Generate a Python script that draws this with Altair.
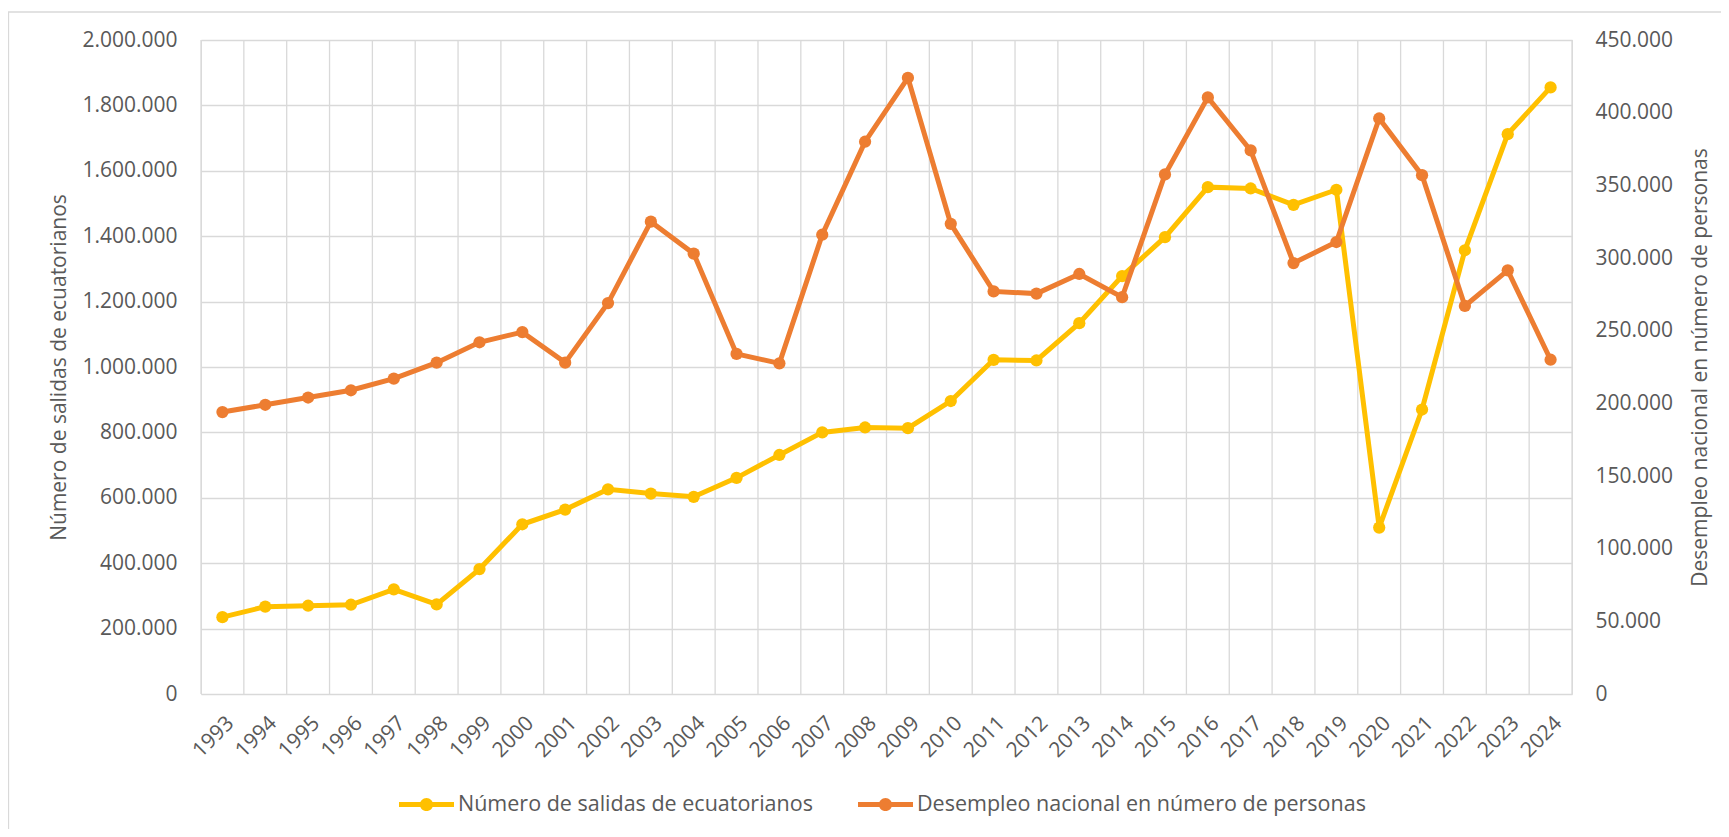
import altair as alt
import pandas as pd

years = list(range(1993, 2025))
salidas = [235000, 267000, 270000, 273000, 320000, 274000, 382000, 519000,
           564000, 626000, 613000, 603000, 661000, 731000, 800000, 815000,
           813000, 896000, 1022000, 1020000, 1134000, 1278000, 1397000, 1550000,
           1546000, 1496000, 1542000, 509000, 870000, 1357000, 1712000, 1855000]
desempleo = [194000, 199000, 204000, 209000, 217000, 228000, 242000, 249000,
             228000, 269000, 325000, 303000, 234000, 227500, 316000, 380000,
             424000, 323500, 277000, 275500, 289000, 273000, 357500, 410500,
             374000, 296500, 311000, 396000, 357000, 267000, 291500, 230000]

s1 = "Número de salidas de ecuatorianos"
s2 = "Desempleo nacional en número de personas"
left_ticks = list(range(0, 2000001, 200000))
right_ticks = list(range(0, 450001, 50000))

YELLOW = "#FFC000"
ORANGE = "#ED7D31"
GRID = "#d9d9d9"
TXT = "#595959"
FONT = "Open Sans"

df1 = pd.DataFrame({"year": years, "value": salidas, "series": s1})
df2 = pd.DataFrame({"year": years, "value": desempleo, "series": s2})
bounds = pd.DataFrame({"year": [y - 0.5 for y in years] + [years[-1] + 0.5]})
frame = pd.DataFrame({"k": [0]})

xscale = alt.Scale(domain=[years[0] - 0.5, years[-1] + 0.5], nice=False, zero=False)
xaxis = alt.Axis(values=years, format="d", labelAngle=-45, grid=False, ticks=False,
                 domain=False, title=None, labelPadding=18,
                 labelFont=FONT, labelFontSize=21, labelColor=TXT,
                 labelOverlap=False, labelFlush=False)
xenc = alt.X("year:Q", scale=xscale, axis=xaxis)
cscale = alt.Scale(domain=[s1, s2], range=[YELLOW, ORANGE])
fmt = "replace(format(datum.value, ','), regexp(',', 'g'), '.')"

legend = alt.Legend(
    title=None, orient="none", legendX=198, legendY=737, direction="horizontal",
    symbolType="M-1,-0.09L1,-0.09L1,0.09L-1,0.09Z M-0.24,0A0.24,0.24 0 1,1 0.24,0A0.24,0.24 0 1,1 -0.24,0Z",
    symbolSize=3025, symbolStrokeWidth=0, labelFont=FONT,
    labelFontSize=21.5, labelColor=TXT, labelLimit=600, columnPadding=45, labelOffset=4)

vgrid = alt.Chart(bounds).mark_rule(color=GRID, strokeWidth=1.3).encode(x=xenc)

border = alt.Chart(frame).mark_rect(fill=None, stroke=GRID, strokeWidth=1.3).encode(
    x=alt.value(-192.5), x2=alt.value(1700), y=alt.value(-28), y2=alt.value(900))

yl = alt.Y("value:Q", scale=alt.Scale(domain=[0, 2000000], nice=False),
           axis=alt.Axis(values=left_ticks, labelExpr=fmt, grid=True, gridColor=GRID,
                         gridWidth=1.3, ticks=False, domain=False, labelPadding=24,
                         title=s1, titlePadding=12, titleFont=FONT, titleFontSize=21,
                         titleFontWeight="normal", titleColor=TXT,
                         labelFont=FONT, labelFontSize=21, labelColor=TXT))
yr = alt.Y("value:Q", scale=alt.Scale(domain=[0, 450000], nice=False),
           axis=alt.Axis(values=right_ticks, labelExpr=fmt, orient="right", grid=False,
                         ticks=False, domain=False, labelPadding=23,
                         title=s2, titlePadding=38, titleAngle=270, titleFont=FONT,
                         titleFontSize=21, titleFontWeight="normal", titleColor=TXT,
                         labelFont=FONT, labelFontSize=21, labelColor=TXT))

left = alt.layer(
    alt.Chart(df1).mark_line(strokeWidth=5, color=YELLOW).encode(x=xenc, y=yl),
    alt.Chart(df1).mark_point(filled=True, size=150, opacity=1).encode(
        x=xenc, y=yl, color=alt.Color("series:N", scale=cscale, legend=legend)),
)
right = alt.layer(
    alt.Chart(df2).mark_line(strokeWidth=5, color=ORANGE).encode(x=xenc, y=yr),
    alt.Chart(df2).mark_point(filled=True, size=150, opacity=1).encode(
        x=xenc, y=yr, color=alt.Color("series:N", scale=cscale, legend=legend)),
)

chart = alt.layer(border, vgrid, left, right).resolve_scale(y="independent").properties(
    width=1371, height=654,
    autosize=alt.AutoSizeParams(type="none"),
    padding={"left": 193, "top": 32, "right": 149, "bottom": 135},
).configure_view(stroke=None).configure(background="white")

chart.save("out.html", embed_options={"renderer": "svg", "actions": False})
